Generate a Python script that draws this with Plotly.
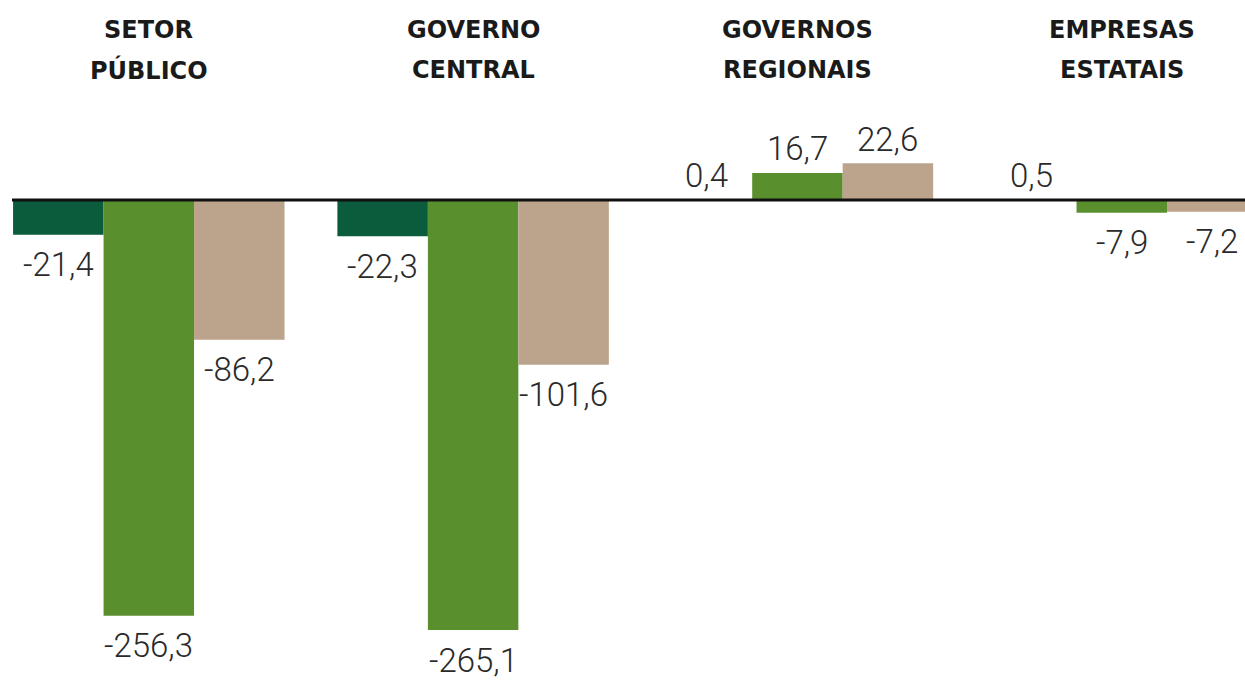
import plotly.graph_objects as go

categories = ["SETOR PÚBLICO", "GOVERNO CENTRAL", "GOVERNOS REGIONAIS", "EMPRESAS ESTATAIS"]
title_lines = [["SETOR", "PÚBLICO"], ["GOVERNO", "CENTRAL"], ["GOVERNOS", "REGIONAIS"], ["EMPRESAS", "ESTATAIS"]]
series_a = [-21.4, -22.3, 0.4, 0.5]
series_b = [-256.3, -265.1, 16.7, -7.9]
series_c = [-86.2, -101.6, 22.6, -7.2]

colors = ["#0b5b3d", "#5a8f2e", "#bba48b"]
series = [series_a, series_b, series_c]

fig = go.Figure()
for vals, col in zip(series, colors):
    fig.add_trace(go.Bar(x=categories, y=vals, marker=dict(color=col, line=dict(width=0)),
                         hoverinfo="skip"))

def fmt(v):
    return f"{v:.1f}".replace(".", ",")

bar_px = 90.5
annotations = []
for si, vals in enumerate(series):
    for ci, v in enumerate(vals):
        annotations.append(dict(
            x=categories[ci], y=v, xref="x", yref="y",
            text=fmt(v), showarrow=False,
            xshift=(si - 1) * bar_px,
            yshift=24 if v >= 0 else -30,
            yanchor="middle", xanchor="center",
            font=dict(family="Roboto, DejaVu Sans Condensed", size=33, color="#2a2a2a", weight=300),
        ))

H = 680
for ci, lines in enumerate(title_lines):
    for li, line in enumerate(lines):
        annotations.append(dict(
            x=categories[ci], xref="x", y=1 - (30 + 40 * li) / H, yref="paper",
            text=line, showarrow=False, yanchor="middle", xanchor="center",
            font=dict(family="DejaVu Sans", size=24, color="#1a1a1a", weight="bold"),
        ))

fig.update_layout(
    width=1245, height=680,
    margin=dict(l=12, r=0, t=0, b=0),
    paper_bgcolor="white", plot_bgcolor="white",
    barmode="group", bargap=0.163, bargroupgap=0,
    showlegend=False,
    xaxis=dict(range=[-0.4218, 3.380], showticklabels=False, showgrid=False,
               zeroline=False, showline=False, ticks=""),
    yaxis=dict(range=[-295.9, 123.3], showticklabels=False, showgrid=False,
               zeroline=False, showline=False, ticks=""),
    annotations=annotations,
    shapes=[dict(type="line", xref="paper", yref="y", x0=0, x1=1, y0=0, y1=0,
                 line=dict(color="#111111", width=3), layer="above")],
)

fig.write_html("out.html")
